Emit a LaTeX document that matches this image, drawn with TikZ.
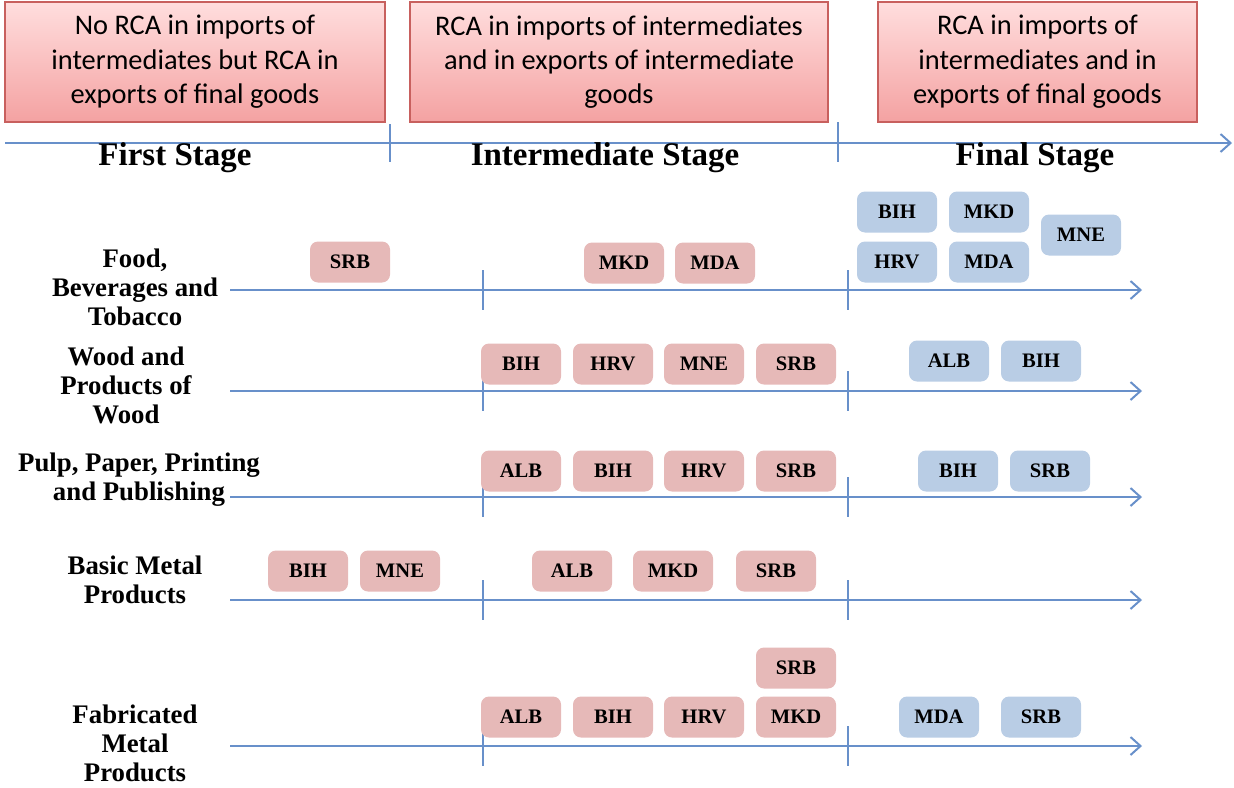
\documentclass[tikz,border=0pt]{standalone}
\usepackage{fontspec}
\setmainfont{Liberation Serif}
\newfontfamily\hdfont{Carlito}
\usepackage{xcolor}
\definecolor{axisblue}{RGB}{104,144,202}
\definecolor{hdedge}{RGB}{200,96,94}
\definecolor{hdtop}{RGB}{255,222,222}
\definecolor{hdbot}{RGB}{244,162,162}
\definecolor{pinkbox}{RGB}{230,185,184}
\definecolor{bluebox}{RGB}{185,205,229}
\usepackage{tikz}
\usetikzlibrary{arrows.meta}
\tikzset{
  hdbox/.style={draw=hdedge, line width=0.6pt, top color=hdtop, bottom color=hdbot,
                minimum height=60pt, inner sep=0pt, align=center,
                font=\hdfont\fontsize{14.2}{17.2}\selectfont},
  ctry/.style={rounded corners=4pt, minimum width=40pt, minimum height=20.5pt,
               inner sep=0pt, font=\bfseries\fontsize{10.3}{12}\selectfont},
  ctrymid/.style={ctry, fill=pinkbox},
  ctryfin/.style={ctry, fill=bluebox},
  sector/.style={align=center, font=\bfseries\fontsize{13.4}{14.5}\selectfont},
  stagelbl/.style={font=\bfseries\fontsize{16.5}{18}\selectfont},
  axisline/.style={draw=axisblue, line width=1pt},
  flow/.style={axisline, -{Straight Barb[length=5pt,width=9pt]}},
}

\begin{document}
\begin{tikzpicture}[x=0.5pt,y=-0.5pt]
\useasboundingbox (0,0) rectangle (1234,787);

% headers
\node[hdbox, minimum width=190pt] (hd1) at (195,62)
  {No RCA in imports of\\intermediates but RCA in\\exports of final goods};
\node[hdbox, minimum width=209pt] (hd2) at (619,62)
  {RCA in imports of intermediates\\and in exports of intermediate\\goods};
\node[hdbox, minimum width=159.5pt] (hd3) at (1037.5,62)
  {RCA in imports of\\intermediates and in\\exports of final goods};

% stage axis
\coordinate (top-s) at (5,143);
\coordinate (top-e) at (1232,143);
\draw[flow] (top-s) -- (top-e);
\coordinate (tk1a) at (390,124); \coordinate (tk1b) at (390,162);
\coordinate (tk2a) at (838,122); \coordinate (tk2b) at (838,162);
\draw[axisline] (tk1a) -- (tk1b);
\draw[axisline] (tk2a) -- (tk2b);

\node[stagelbl] (st1) at (175,158) {First Stage};
\node[stagelbl] (st2) at (605,158) {Intermediate Stage};
\node[stagelbl] (st3) at (1035,158) {Final Stage};

% sector axes
\foreach \r/\y in {food/290, wood/391, pulp/497, metal/600, fab/746}{
  \coordinate (\r-s) at (230,\y);
  \coordinate (\r-e) at (1142,\y);
  \draw[flow] (\r-s) -- (\r-e);
  \coordinate (\r-ma) at (483,\y-20); \coordinate (\r-mb) at (483,\y+20);
  \coordinate (\r-fa) at (848,\y-20); \coordinate (\r-fb) at (848,\y+20);
  \draw[axisline] (\r-ma) -- (\r-mb);
  \draw[axisline] (\r-fa) -- (\r-fb);
}

% sectors
\node[sector] (food) at (135,287) {Food,\\Beverages and\\Tobacco};
\node[sector] (wood) at (126,385) {Wood and\\Products of\\Wood};
\node[sector] (pulp) at (139,480) {Pulp, Paper, Printing\\and Publishing};
\node[sector] (metal) at (135,580) {Basic Metal\\Products};
\node[sector] (fab) at (135,743) {Fabricated\\Metal\\Products};

% countries, pink
\foreach \n/\x/\y/\t in {
  f1/350/262/SRB, f2/624/263/MKD, f3/715/263/MDA,
  w1/521/364/BIH, w2/613/364/HRV, w3/704/364/MNE, w4/796/364/SRB,
  p1/521/471/ALB, p2/613/471/BIH, p3/704/471/HRV, p4/796/471/SRB,
  m1/308/571/BIH, m2/400/571/MNE, m3/572/571/ALB, m4/673/571/MKD, m5/776/571/SRB,
  b0/796/668/SRB, b1/521/717/ALB, b2/613/717/BIH, b3/704/717/HRV, b4/796/717/MKD}
  \node[ctrymid] (\n) at (\x,\y) {\t};

% countries, blue
\foreach \n/\x/\y/\t in {
  fz1/897/212/BIH, fz2/989/212/MKD, fz3/897/262/HRV, fz4/989/262/MDA, fz5/1081/235/MNE,
  wz1/949/361/ALB, wz2/1041/361/BIH,
  pz1/958/471/BIH, pz2/1050/471/SRB,
  bz1/939/717/MDA, bz2/1041/717/SRB}
  \node[ctryfin] (\n) at (\x,\y) {\t};
\end{tikzpicture}
\end{document}
